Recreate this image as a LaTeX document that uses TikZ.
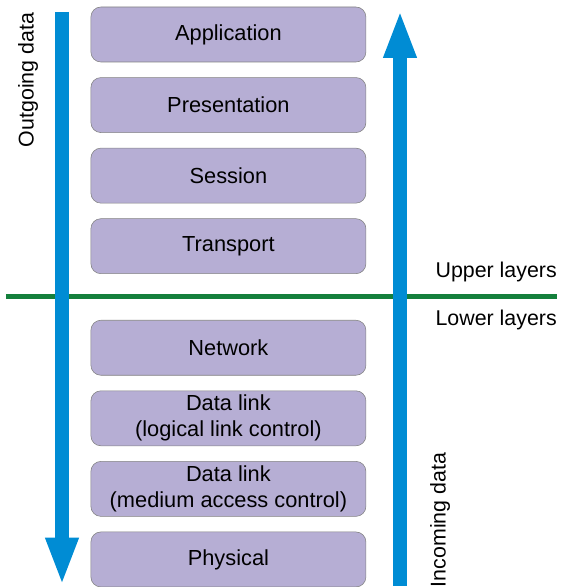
\documentclass[tikz,border=0pt]{standalone}
\usepackage{fontspec}
\setmainfont{Liberation Sans}
\usetikzlibrary{positioning, arrows.meta}
\definecolor{layerfill}{RGB}{182,174,212}
\definecolor{layerdraw}{RGB}{130,130,130}
\definecolor{flowblue}{RGB}{0,140,212}
\definecolor{splitgreen}{RGB}{20,128,60}

\begin{document}
\begin{tikzpicture}[
        node distance=0.375cm,
        layer/.style={rectangle, draw=layerdraw, fill=layerfill, rounded corners=2.5mm,
          minimum width=6.875cm, minimum height=1.375cm, align=center, inner sep=0pt,
          font=\fontsize{15.5}{18.5}\selectfont},
        flow/.style={-{Triangle[length=1.2cm,width=0.75cm]}, line width=0.35cm, draw=flowblue},
        lbl/.style={font=\fontsize{15.2}{18.5}\selectfont, inner sep=0pt}
      ]
        \useasboundingbox (0,0) rectangle (14.025,-14.675);

        % upper / lower split
        \coordinate (splitL) at (0.15,-7.4);
        \coordinate (splitR) at (13.925,-7.4);
        \draw[splitgreen, line width=0.125cm] (splitL) -- (splitR);
        \node[lbl, anchor=east] (upper) at (13.925,-6.8) {Upper layers};
        \node[lbl, anchor=east] (lower) at (13.925,-8.0) {Lower layers};

        % data flow
        \coordinate (outTop) at (1.55,-0.3);
        \coordinate (outBot) at (1.55,-14.64);
        \coordinate (inBot) at (10.0,-14.64);
        \coordinate (inTop) at (10.0,-0.25);
        \draw[flow] (outTop) -- (outBot);
        \draw[flow] (inBot) -- (inTop);
        \node[lbl, rotate=90] (outgoing) at (0.7,-2.0) {Outgoing data};
        \node[lbl, rotate=90] (incoming) at (11.0,-13.0) {Incoming data};

        % layers
        \node[layer] (app) at (5.71,-0.8625) {Application};
        \node[layer, below=of app] (pres) {Presentation};
        \node[layer, below=of pres] (sess) {Session};
        \node[layer, below=of sess] (trans) {Transport};
        \node[layer, below=1.15cm of trans] (net) {Network};
        \node[layer, below=of net] (llc) {Data link\\(logical link control)};
        \node[layer, below=of llc] (mac) {Data link\\(medium access control)};
        \node[layer, below=of mac] (phys) {Physical};
      \end{tikzpicture}
\end{document}
